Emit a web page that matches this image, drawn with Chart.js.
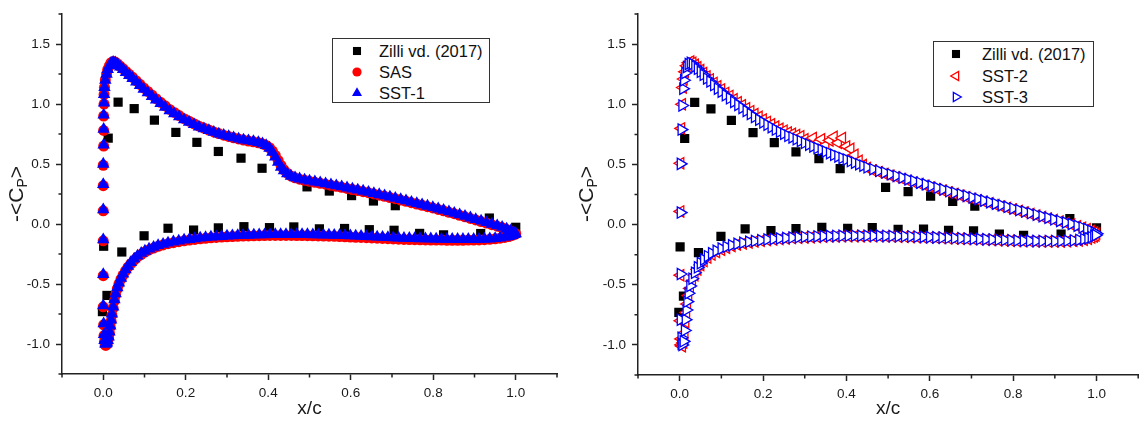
<!DOCTYPE html>
<html>
<head>
<meta charset="utf-8">
<script src="https://cdn.jsdelivr.net/npm/chart.js@4.4.0/dist/chart.umd.min.js"></script>
<style>
  body { margin: 0; background: #fff; }
  #wrap { position: relative; width: 1146px; height: 428px; overflow: hidden;
          font-family: "Liberation Sans", Arial, sans-serif; color: #1a1a1a; }
  canvas { position: absolute; top: 0; }
  .ytitle { position: absolute; transform: translate(-50%, -50%) rotate(-90deg);
            font-size: 21px; white-space: nowrap; line-height: 1; }
  .ytitle sub { font-size: 14px; vertical-align: -4px; }
  .legend { position: absolute; border: 1px solid #333; background: #fff; box-sizing: border-box; }
  .legend svg { position: absolute; }
  .legend span { position: absolute; font-size: 16.5px; line-height: 20px; white-space: nowrap; color: #111; }
</style>
</head>
<body>
<div id="wrap">
  <canvas id="left" width="573" height="428" style="left:0"></canvas>
  <canvas id="right" width="573" height="428" style="left:573px"></canvas>
  <div class="ytitle" style="left:17px; top:194px">-&lt;C<sub>P</sub>&gt;</div>
  <div class="ytitle" style="left:587px; top:194px">-&lt;C<sub>P</sub>&gt;</div>
</div>
<script>
// experiment, same points in both panels
const zilliX = [0.012, 0.036, 0.075, 0.124, 0.176, 0.227, 0.279, 0.334, 0.385, 0.494, 0.548, 0.602, 0.655, 0.708, 0.936, 1.0,
                -0.002, 0.001, 0.009, 0.045, 0.099, 0.157, 0.219, 0.279, 0.341, 0.403, 0.462, 0.524, 0.585, 0.645, 0.705, 0.767, 0.825, 0.915];
const zilliY = [0.716, 1.016, 0.962, 0.866, 0.764, 0.681, 0.605, 0.549, 0.465, 0.31, 0.275, 0.237, 0.192, 0.153, 0.05, -0.027,
                -0.73, -0.185, -0.595, -0.233, -0.098, -0.035, -0.05, -0.032, -0.022, -0.03, -0.024, -0.04, -0.037, -0.047, -0.052, -0.078, -0.09, -0.079];

// left panel: SAS / SST-1
const leftUpperX = [0.000, 0.000, 0.000, 0.000, 0.000, 0.001, 0.001, 0.001, 0.002, 0.002, 0.003,
  0.005, 0.008, 0.011, 0.015, 0.019, 0.024, 0.029, 0.035, 0.041, 0.048,
  0.055, 0.063, 0.071, 0.080, 0.089, 0.098, 0.108, 0.118, 0.128, 0.139,
  0.150, 0.161, 0.172, 0.184, 0.196, 0.208, 0.220, 0.232, 0.244, 0.256,
  0.268, 0.280, 0.292, 0.304, 0.316, 0.328, 0.340, 0.352, 0.364, 0.376,
  0.386, 0.395, 0.403, 0.410, 0.417, 0.424, 0.431, 0.438, 0.446, 0.455,
  0.465, 0.476, 0.488, 0.500, 0.513, 0.526, 0.539, 0.552, 0.565, 0.578,
  0.591, 0.604, 0.617, 0.630, 0.643, 0.656, 0.669, 0.682, 0.695, 0.708,
  0.721, 0.734, 0.747, 0.760, 0.773, 0.786, 0.799, 0.812, 0.825, 0.838,
  0.851, 0.864, 0.877, 0.890, 0.903, 0.916, 0.929, 0.942, 0.955, 0.967,
  0.978, 0.988, 0.995, 1.000];
const sst1UpperY = [-0.42, -0.13, 0.12, 0.33, 0.50, 0.66, 0.79, 0.91, 1.01, 1.08, 1.14,
  1.20, 1.25, 1.29, 1.32, 1.34, 1.35, 1.345, 1.33, 1.31, 1.29,
  1.265, 1.24, 1.215, 1.185, 1.155, 1.125, 1.095, 1.065, 1.035, 1.005,
  0.975, 0.945, 0.92, 0.895, 0.87, 0.85, 0.83, 0.81, 0.795, 0.78,
  0.765, 0.752, 0.74, 0.73, 0.72, 0.71, 0.702, 0.695, 0.688, 0.68,
  0.67, 0.655, 0.632, 0.60, 0.56, 0.515, 0.475, 0.445, 0.42, 0.40,
  0.387, 0.377, 0.368, 0.36, 0.352, 0.344, 0.336, 0.328, 0.32, 0.311,
  0.302, 0.293, 0.284, 0.275, 0.266, 0.256, 0.246, 0.236, 0.226, 0.216,
  0.205, 0.194, 0.183, 0.172, 0.161, 0.15, 0.139, 0.127, 0.115, 0.103,
  0.091, 0.078, 0.065, 0.052, 0.039, 0.026, 0.013, 0.0, -0.013, -0.026,
  -0.04, -0.055, -0.068, -0.08];
const sasUpperY = [-0.43, -0.14, 0.11, 0.32, 0.49, 0.65, 0.78, 0.90, 1.00, 1.08, 1.14,
  1.20, 1.25, 1.29, 1.32, 1.345, 1.355, 1.35, 1.335, 1.315, 1.295,
  1.272, 1.248, 1.223, 1.194, 1.165, 1.135, 1.105, 1.075, 1.045, 1.015,
  0.985, 0.955, 0.93, 0.904, 0.878, 0.857, 0.836, 0.816, 0.8, 0.784,
  0.768, 0.754, 0.741, 0.73, 0.719, 0.709, 0.7, 0.692, 0.685, 0.677,
  0.668, 0.655, 0.636, 0.608, 0.572, 0.53, 0.488, 0.452, 0.424, 0.401,
  0.385, 0.374, 0.365, 0.356, 0.348, 0.34, 0.332, 0.323, 0.315, 0.306,
  0.297, 0.288, 0.279, 0.27, 0.261, 0.251, 0.241, 0.231, 0.221, 0.211,
  0.2, 0.189, 0.178, 0.167, 0.156, 0.145, 0.134, 0.122, 0.11, 0.098,
  0.086, 0.073, 0.06, 0.047, 0.034, 0.021, 0.008, -0.005, -0.018, -0.031,
  -0.045, -0.059, -0.071, -0.082];
const leftLowerX = [0.000, 0.001, 0.002, 0.003, 0.005, 0.007, 0.009, 0.011, 0.013, 0.015,
  0.017, 0.019, 0.021, 0.024, 0.027, 0.030, 0.034, 0.038, 0.043, 0.048,
  0.054, 0.060, 0.067, 0.075, 0.083, 0.092, 0.101, 0.111, 0.122, 0.133,
  0.145, 0.157, 0.170, 0.183, 0.196, 0.209, 0.222, 0.235, 0.248, 0.261,
  0.274, 0.287, 0.300, 0.313, 0.326, 0.339, 0.352, 0.365, 0.378, 0.391,
  0.404, 0.417, 0.430, 0.443, 0.456, 0.469, 0.482, 0.495, 0.508, 0.521,
  0.534, 0.547, 0.560, 0.573, 0.586, 0.599, 0.612, 0.625, 0.638, 0.651,
  0.664, 0.677, 0.690, 0.703, 0.716, 0.729, 0.742, 0.755, 0.768, 0.781,
  0.794, 0.807, 0.820, 0.833, 0.846, 0.859, 0.872, 0.885, 0.898, 0.911,
  0.924, 0.937, 0.950, 0.962, 0.973, 0.983, 0.991, 0.997];
const sst1LowerY = [-0.68, -0.83, -0.92, -0.97, -1.0, -1.0, -0.99, -0.97, -0.94, -0.90,
  -0.85, -0.80, -0.75, -0.69, -0.63, -0.58, -0.53, -0.49, -0.45, -0.415,
  -0.38, -0.35, -0.32, -0.29, -0.265, -0.243, -0.225, -0.208, -0.192, -0.179,
  -0.167, -0.157, -0.148, -0.14, -0.133, -0.127, -0.121, -0.116, -0.112, -0.108,
  -0.105, -0.102, -0.099, -0.097, -0.095, -0.093, -0.092, -0.09, -0.089, -0.088,
  -0.087, -0.087, -0.086, -0.086, -0.086, -0.086, -0.087, -0.087, -0.088, -0.089,
  -0.09, -0.091, -0.092, -0.093, -0.095, -0.097, -0.099, -0.101, -0.103, -0.105,
  -0.107, -0.109, -0.111, -0.113, -0.115, -0.117, -0.119, -0.12, -0.121, -0.122,
  -0.123, -0.124, -0.125, -0.126, -0.126, -0.127, -0.127, -0.127, -0.127, -0.126,
  -0.125, -0.123, -0.12, -0.116, -0.11, -0.102, -0.094, -0.086];
const sasLowerY = [-0.69, -0.84, -0.93, -0.98, -1.01, -1.01, -1.0, -0.98, -0.95, -0.91,
  -0.86, -0.81, -0.76, -0.70, -0.64, -0.59, -0.54, -0.50, -0.46, -0.425,
  -0.39, -0.36, -0.33, -0.30, -0.274, -0.252, -0.233, -0.216, -0.2, -0.186,
  -0.174, -0.164, -0.155, -0.147, -0.14, -0.134, -0.128, -0.123, -0.119, -0.115,
  -0.112, -0.109, -0.106, -0.104, -0.102, -0.1, -0.099, -0.098, -0.097, -0.096,
  -0.095, -0.095, -0.095, -0.095, -0.095, -0.096, -0.096, -0.097, -0.098, -0.099,
  -0.1, -0.101, -0.102, -0.104, -0.106, -0.108, -0.11, -0.112, -0.114, -0.116,
  -0.118, -0.12, -0.122, -0.124, -0.126, -0.128, -0.129, -0.13, -0.131, -0.132,
  -0.133, -0.134, -0.134, -0.135, -0.135, -0.135, -0.135, -0.134, -0.133, -0.132,
  -0.13, -0.127, -0.123, -0.118, -0.112, -0.104, -0.095, -0.087];

// right panel: SST-2 / SST-3
const rightUpperX = [0.002, 0.002, 0.002, 0.004, 0.006, 0.008, 0.010, 0.013, 0.017, 0.021,
  0.026, 0.031, 0.037, 0.043, 0.050, 0.057, 0.065, 0.073, 0.082, 0.091,
  0.100, 0.110, 0.120, 0.130, 0.140, 0.150, 0.160, 0.170, 0.180, 0.190,
  0.200, 0.210, 0.220, 0.230, 0.240, 0.250, 0.260, 0.270, 0.280, 0.290,
  0.300, 0.310, 0.320, 0.330, 0.340, 0.350, 0.360, 0.370, 0.380, 0.390,
  0.400, 0.410, 0.420, 0.430, 0.440, 0.450, 0.464, 0.478, 0.492, 0.506,
  0.520, 0.534, 0.548, 0.562, 0.576, 0.590, 0.604, 0.618, 0.632, 0.646,
  0.660, 0.674, 0.688, 0.702, 0.716, 0.730, 0.744, 0.758, 0.772, 0.786,
  0.800, 0.814, 0.828, 0.842, 0.856, 0.870, 0.884, 0.898, 0.912, 0.926,
  0.940, 0.954, 0.966, 0.977, 0.987, 0.995, 1.000];
const sst3UpperY = [-0.41, 0.10, 0.505, 0.79, 0.99, 1.13, 1.20, 1.26, 1.31, 1.335,
  1.345, 1.335, 1.315, 1.295, 1.27, 1.245, 1.215, 1.19, 1.16, 1.13,
  1.105, 1.075, 1.05, 1.02, 0.995, 0.97, 0.945, 0.92, 0.895, 0.872,
  0.85, 0.83, 0.81, 0.79, 0.772, 0.755, 0.738, 0.725, 0.71, 0.695,
  0.68, 0.665, 0.65, 0.636, 0.622, 0.608, 0.594, 0.58, 0.567, 0.554,
  0.541, 0.528, 0.515, 0.502, 0.489, 0.476, 0.461, 0.447, 0.433, 0.419,
  0.405, 0.391, 0.377, 0.363, 0.349, 0.335, 0.321, 0.307, 0.293, 0.279,
  0.265, 0.252, 0.239, 0.226, 0.213, 0.2, 0.187, 0.174, 0.161, 0.148,
  0.135, 0.122, 0.109, 0.096, 0.083, 0.07, 0.057, 0.044, 0.031, 0.018,
  0.005, -0.009, -0.023, -0.037, -0.051, -0.064, -0.075];
const sst2UpperY = [-0.42, 0.11, 0.51, 0.80, 1.00, 1.14, 1.21, 1.27, 1.32, 1.345,
  1.355, 1.345, 1.328, 1.308, 1.285, 1.26, 1.232, 1.207, 1.178, 1.15,
  1.124, 1.095, 1.07, 1.042, 1.017, 0.992, 0.967, 0.943, 0.919, 0.896,
  0.874, 0.854, 0.834, 0.815, 0.797, 0.781, 0.766, 0.755, 0.745, 0.735,
  0.71, 0.69, 0.72, 0.68, 0.71, 0.66, 0.70, 0.73, 0.68, 0.72,
  0.65, 0.63, 0.58, 0.53, 0.495, 0.47, 0.449, 0.435, 0.421, 0.407,
  0.393, 0.379, 0.365, 0.351, 0.337, 0.323, 0.309, 0.295, 0.281, 0.268,
  0.254, 0.241, 0.228, 0.215, 0.202, 0.19, 0.177, 0.164, 0.151, 0.138,
  0.126, 0.113, 0.1, 0.088, 0.075, 0.063, 0.05, 0.038, 0.025, 0.013,
  0.0, -0.013, -0.026, -0.039, -0.052, -0.064, -0.074];
const rightLowerX = [0.002, 0.004, 0.004, 0.006, 0.009, 0.012, 0.014, 0.016, 0.018, 0.021,
  0.025, 0.030, 0.036, 0.043, 0.050, 0.058, 0.067, 0.077, 0.088, 0.100,
  0.112, 0.125, 0.138, 0.152, 0.166, 0.180, 0.195, 0.210, 0.225, 0.240,
  0.255, 0.270, 0.285, 0.300, 0.315, 0.330, 0.345, 0.360, 0.375, 0.390,
  0.405, 0.420, 0.435, 0.450, 0.465, 0.480, 0.495, 0.510, 0.525, 0.540,
  0.555, 0.570, 0.585, 0.600, 0.615, 0.630, 0.645, 0.660, 0.675, 0.690,
  0.705, 0.720, 0.735, 0.750, 0.765, 0.780, 0.795, 0.810, 0.825, 0.840,
  0.855, 0.870, 0.885, 0.900, 0.915, 0.930, 0.945, 0.958, 0.970, 0.980,
  0.988, 0.994, 0.998];
const sst3LowerY = [-0.79, -0.94, -0.99, -1.0, -0.97, -0.88, -0.79, -0.71, -0.64, -0.57,
  -0.51, -0.45, -0.40, -0.355, -0.32, -0.29, -0.262, -0.238, -0.217, -0.199,
  -0.184, -0.171, -0.16, -0.151, -0.143, -0.136, -0.13, -0.124, -0.119, -0.115,
  -0.111, -0.108, -0.105, -0.102, -0.1, -0.098, -0.096, -0.095, -0.094, -0.093,
  -0.092, -0.092, -0.092, -0.092, -0.093, -0.093, -0.094, -0.095, -0.096, -0.097,
  -0.098, -0.1, -0.102, -0.104, -0.106, -0.108, -0.11, -0.112, -0.114, -0.116,
  -0.118, -0.12, -0.122, -0.124, -0.126, -0.128, -0.13, -0.132, -0.134, -0.135,
  -0.136, -0.137, -0.137, -0.137, -0.136, -0.134, -0.131, -0.127, -0.121, -0.113,
  -0.104, -0.095, -0.087];
const sst2LowerY = [-0.80, -0.95, -1.0, -1.01, -0.98, -0.9, -0.81, -0.73, -0.66, -0.59,
  -0.53, -0.47, -0.42, -0.372, -0.335, -0.303, -0.274, -0.249, -0.227, -0.208,
  -0.192, -0.178, -0.166, -0.156, -0.148, -0.14, -0.134, -0.128, -0.123, -0.119,
  -0.115, -0.112, -0.109, -0.106, -0.104, -0.102, -0.1, -0.099, -0.098, -0.097,
  -0.096, -0.096, -0.096, -0.096, -0.097, -0.097, -0.098, -0.099, -0.1, -0.101,
  -0.102, -0.104, -0.106, -0.108, -0.11, -0.112, -0.114, -0.116, -0.118, -0.12,
  -0.122, -0.124, -0.126, -0.128, -0.13, -0.132, -0.134, -0.136, -0.138, -0.139,
  -0.14, -0.141, -0.141, -0.141, -0.14, -0.138, -0.135, -0.131, -0.125, -0.117,
  -0.108, -0.099, -0.09];

// axis ticks
const xMajor = [0, 0.2, 0.4, 0.6, 0.8, 1.0];
const xMinor = [-0.1, 0.1, 0.3, 0.5, 0.7, 0.9, 1.1];
const yMajor = [-1.0, -0.5, 0, 0.5, 1.0, 1.5];
const yMinor = [-1.25, -0.75, -0.25, 0.25, 0.75, 1.25, 1.75];

Chart.defaults.font.family = '"Liberation Sans", Arial, sans-serif';
const INK = '#222';

function pts(xs, ys) {
  return xs.map((x, i) => ({ x: x, y: ys[i] }));
}

// origin-style short minor ticks
const minorTicks = {
  id: 'minorTicks',
  afterDraw(chart) {
    const { ctx, chartArea, scales } = chart;
    ctx.save();
    ctx.strokeStyle = INK;
    ctx.lineWidth = 1.5;
    ctx.beginPath();
    xMinor.forEach(v => {
      const px = scales.x.getPixelForValue(v);
      ctx.moveTo(px, chartArea.bottom);
      ctx.lineTo(px, chartArea.bottom + 3.5);
    });
    yMinor.forEach(v => {
      const py = scales.y.getPixelForValue(v);
      ctx.moveTo(chartArea.left, py);
      ctx.lineTo(chartArea.left - 3.5, py);
    });
    ctx.stroke();
    ctx.restore();
  }
};

function makeChart(id, datasets, pad, yWidth, xHeight) {
  return new Chart(document.getElementById(id), {
    type: 'scatter',
    data: { datasets: datasets },
    options: {
      responsive: false,
      animation: false,
      events: [],
      layout: { padding: pad },
      plugins: { legend: { display: false }, tooltip: { enabled: false } },
      scales: {
        x: {
          type: 'linear', min: -0.1, max: 1.1,
          afterBuildTicks: s => { s.ticks = xMajor.map(v => ({ value: v })); },
          afterFit: s => { s.height = xHeight; },
          ticks: { callback: v => v.toFixed(1), font: { size: 13.5 }, color: '#1a1a1a', padding: 5, maxRotation: 0, autoSkip: false },
          grid: { drawOnChartArea: false, tickLength: 6, tickColor: INK, tickWidth: 1.5 },
          border: { color: INK, width: 1.5 },
          title: { display: true, text: 'x/c', font: { size: 19 }, color: '#1a1a1a', padding: { top: 0, bottom: 7.5 } }
        },
        y: {
          type: 'linear', min: -1.25, max: 1.75,
          afterBuildTicks: s => { s.ticks = yMajor.map(v => ({ value: v })); },
          afterFit: s => { s.width = yWidth; },
          ticks: { callback: v => v.toFixed(1), font: { size: 13.5 }, color: '#1a1a1a', padding: 6, autoSkip: false },
          grid: { drawOnChartArea: false, tickLength: 6, tickColor: INK, tickWidth: 1.5 },
          border: { color: INK, width: 1.5 }
        }
      }
    },
    plugins: [minorTicks]
  });
}

const zilli = {
  label: 'Zilli vd. (2017)', data: pts(zilliX, zilliY), order: 3,
  pointStyle: 'rect', pointRadius: 6.5, backgroundColor: '#000', borderColor: '#000', borderWidth: 0
};

const leftSets = [
  zilli,
  { label: 'SAS', data: pts(leftUpperX, sasUpperY).concat(pts(leftLowerX, sasLowerY)), order: 2,
    pointStyle: 'circle', pointRadius: 5.5, backgroundColor: '#ff0000', borderColor: '#ff0000', borderWidth: 0 },
  { label: 'SST-1', data: pts(leftUpperX, sst1UpperY).concat(pts(leftLowerX, sst1LowerY)), order: 1,
    pointStyle: 'triangle', pointRadius: 7.2, backgroundColor: '#0000ff', borderColor: '#0000ff', borderWidth: 0 }
];

const rightSets = [
  Object.assign({}, zilli),
  { label: 'SST-2', data: pts(rightUpperX, sst2UpperY).concat(pts(rightLowerX, sst2LowerY)), order: 2,
    pointStyle: 'triangle', pointRotation: -90, pointRadius: 6.5, backgroundColor: '#ffffff', borderColor: '#ff0000', borderWidth: 1.3 },
  { label: 'SST-3', data: pts(rightUpperX, sst3UpperY).concat(pts(rightLowerX, sst3LowerY)), order: 1,
    pointStyle: 'triangle', pointRotation: 90, pointRadius: 6.5, backgroundColor: '#ffffff', borderColor: '#0000ff', borderWidth: 1.3 }
];

makeChart('left', leftSets, { top: 7, right: 16, bottom: 0, left: 0 }, 62, 54);
makeChart('right', rightSets, { top: 1.5, right: 5, bottom: 0, left: 0 }, 65, 53);

// boxed legend inside the plot, built from the datasets
function markerSvg(ds, r) {
  const s = 16, c = s / 2;
  let shape;
  const fill = ds.backgroundColor, stroke = ds.borderColor, sw = ds.borderWidth || 0;
  if (ds.pointStyle === 'rect') {
    const h = Math.SQRT1_2 * r;
    shape = `<rect x="${c - h}" y="${c - h}" width="${2 * h}" height="${2 * h}" fill="${fill}"/>`;
  } else if (ds.pointStyle === 'circle') {
    shape = `<circle cx="${c}" cy="${c}" r="${r}" fill="${fill}"/>`;
  } else {
    let a = (ds.pointRotation || 0) * Math.PI / 180;
    const p = [];
    for (let k = 0; k < 3; k++) {
      p.push((c + Math.sin(a) * r).toFixed(2) + ',' + (c - Math.cos(a) * r).toFixed(2));
      a += 2 * Math.PI / 3;
    }
    shape = `<polygon points="${p.join(' ')}" fill="${fill}" stroke="${stroke}" stroke-width="${sw}"/>`;
  }
  return `<svg width="${s}" height="${s}" viewBox="0 0 ${s} ${s}">${shape}</svg>`;
}

function buildLegend(sets, box, rows, markX, textX, radii) {
  const el = document.createElement('div');
  el.className = 'legend';
  el.style.left = box[0] + 'px';
  el.style.top = box[1] + 'px';
  el.style.width = box[2] + 'px';
  el.style.height = box[3] + 'px';
  sets.forEach((ds, i) => {
    const holder = document.createElement('div');
    holder.innerHTML = markerSvg(ds, radii[i]);
    const svg = holder.firstChild;
    svg.style.left = (markX - 8) + 'px';
    svg.style.top = (rows[i] - 8) + 'px';
    el.appendChild(svg);
    const span = document.createElement('span');
    span.textContent = ds.label;
    span.style.left = textX + 'px';
    span.style.top = (rows[i] - 10) + 'px';
    el.appendChild(span);
  });
  document.getElementById('wrap').appendChild(el);
}

buildLegend(leftSets, [332, 38, 158, 65], [12, 33, 54], 24, 46, [5.7, 4.6, 5.8]);
buildLegend(rightSets, [933, 41, 161, 66], [11.5, 34, 55], 22, 48, [5.7, 5.3, 5.3]);
</script>
</body>
</html>
